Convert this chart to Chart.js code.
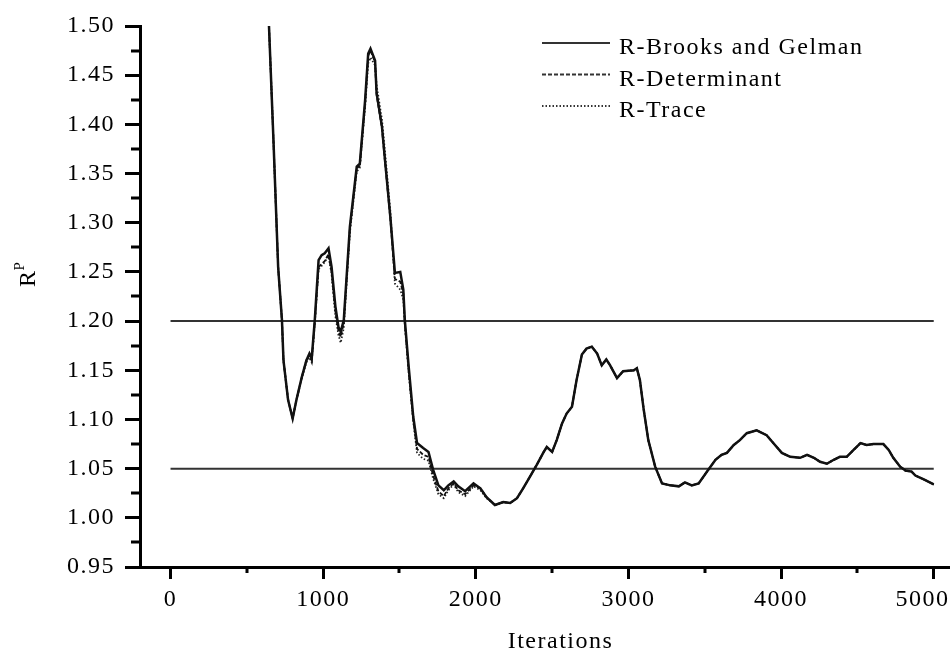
<!DOCTYPE html>
<html>
<head>
<meta charset="utf-8">
<script src="https://cdn.jsdelivr.net/npm/chart.js@4.4.0/dist/chart.umd.min.js"></script>
<style>
  html, body { margin: 0; padding: 0; background: #fff; }
  #wrap { width: 952px; height: 651px; }
</style>
</head>
<body>
<div id="wrap"><canvas id="rpChart"></canvas></div>
<script>
// values
const iterations = [
  645, 675, 705, 730, 740, 770, 800, 825, 860, 890,
  910, 925, 945, 970, 990, 1010, 1035, 1055, 1080, 1100,
  1115, 1135, 1175, 1220, 1240, 1275, 1295, 1310, 1340, 1350,
  1385, 1405, 1440, 1470, 1505, 1525, 1535, 1560, 1590, 1615,
  1655, 1690, 1720, 1755, 1790, 1820, 1855, 1885, 1930, 1985,
  2030, 2070, 2125, 2180, 2225, 2270, 2310, 2355, 2400, 2445,
  2465, 2500, 2530, 2565, 2595, 2630, 2660, 2695, 2725, 2760,
  2795, 2825, 2855, 2880, 2925, 2965, 3035, 3055, 3075, 3100,
  3130, 3175, 3220, 3275, 3330, 3370, 3415, 3460, 3515, 3570,
  3610, 3645, 3690, 3730, 3775, 3840, 3905, 3960, 4005, 4060,
  4125, 4170, 4215, 4255, 4300, 4345, 4385, 4430, 4475, 4520,
  4560, 4605, 4670, 4705, 4735, 4780, 4815, 4855, 4880, 4935, 5000
];
const rBrooksGelman = [
  1.500, 1.381, 1.255, 1.201, 1.160, 1.120, 1.101, 1.120, 1.143, 1.160,
  1.167, 1.162, 1.201, 1.262, 1.267, 1.269, 1.274, 1.255, 1.215, 1.194,
  1.189, 1.201, 1.296, 1.357, 1.360, 1.425, 1.472, 1.477, 1.465, 1.432,
  1.398, 1.364, 1.306, 1.249, 1.250, 1.232, 1.201, 1.154, 1.103, 1.076,
  1.071, 1.067, 1.049, 1.033, 1.028, 1.033, 1.037, 1.032, 1.027, 1.035,
  1.030, 1.021, 1.013, 1.016, 1.015, 1.020, 1.030, 1.042, 1.054, 1.067,
  1.072, 1.067, 1.079, 1.096, 1.106, 1.113, 1.140, 1.166, 1.172, 1.174,
  1.167, 1.155, 1.161, 1.155, 1.142, 1.149, 1.150, 1.152, 1.140, 1.110,
  1.079, 1.052, 1.035, 1.033, 1.032, 1.036, 1.033, 1.035, 1.047, 1.059,
  1.064, 1.066, 1.074, 1.079, 1.086, 1.089, 1.084, 1.074, 1.066, 1.062,
  1.061, 1.064, 1.061, 1.057, 1.055, 1.059, 1.062, 1.062, 1.069, 1.076,
  1.074, 1.075, 1.075, 1.069, 1.061, 1.052, 1.048, 1.047, 1.043, 1.039, 1.034
];
const rDeterminant = [
  1.500, 1.381, 1.255, 1.201, 1.160, 1.120, 1.101, 1.120, 1.143, 1.160,
  1.165, 1.160, 1.199, 1.255, 1.258, 1.261, 1.268, 1.250, 1.210, 1.190,
  1.184, 1.198, 1.294, 1.355, 1.358, 1.422, 1.470, 1.475, 1.463, 1.430,
  1.396, 1.362, 1.304, 1.243, 1.240, 1.228, 1.198, 1.150, 1.100, 1.070,
  1.064, 1.062, 1.043, 1.027, 1.022, 1.030, 1.035, 1.028, 1.024, 1.033,
  1.030, 1.021, 1.013, 1.016, 1.015, 1.020, 1.030, 1.042, 1.054, 1.067,
  1.072, 1.067, 1.079, 1.096, 1.106, 1.113, 1.140, 1.166, 1.172, 1.174,
  1.167, 1.155, 1.161, 1.155, 1.142, 1.149, 1.150, 1.152, 1.140, 1.110,
  1.079, 1.052, 1.035, 1.033, 1.032, 1.036, 1.033, 1.035, 1.047, 1.059,
  1.064, 1.066, 1.074, 1.079, 1.086, 1.089, 1.084, 1.074, 1.066, 1.062,
  1.061, 1.064, 1.061, 1.057, 1.055, 1.059, 1.062, 1.062, 1.069, 1.076,
  1.074, 1.075, 1.075, 1.069, 1.061, 1.052, 1.048, 1.047, 1.043, 1.039, 1.034
];
const rTrace = [
  1.500, 1.381, 1.255, 1.201, 1.160, 1.120, 1.101, 1.120, 1.142, 1.158,
  1.163, 1.158, 1.197, 1.253, 1.256, 1.260, 1.266, 1.248, 1.205, 1.186,
  1.178, 1.193, 1.290, 1.352, 1.356, 1.418, 1.462, 1.468, 1.460, 1.440,
  1.405, 1.372, 1.312, 1.238, 1.232, 1.222, 1.196, 1.148, 1.098, 1.066,
  1.060, 1.058, 1.040, 1.024, 1.020, 1.028, 1.034, 1.026, 1.022, 1.032,
  1.028, 1.020, 1.013, 1.016, 1.015, 1.020, 1.030, 1.042, 1.054, 1.067,
  1.072, 1.067, 1.079, 1.096, 1.106, 1.113, 1.140, 1.166, 1.172, 1.174,
  1.167, 1.155, 1.161, 1.155, 1.142, 1.149, 1.150, 1.152, 1.140, 1.110,
  1.079, 1.052, 1.035, 1.033, 1.032, 1.036, 1.033, 1.035, 1.047, 1.059,
  1.064, 1.066, 1.074, 1.079, 1.086, 1.089, 1.084, 1.074, 1.066, 1.062,
  1.061, 1.064, 1.061, 1.057, 1.055, 1.059, 1.062, 1.062, 1.069, 1.076,
  1.074, 1.075, 1.075, 1.069, 1.061, 1.052, 1.048, 1.047, 1.043, 1.039, 1.034
];
const seriesNames = ['R-Brooks and Gelman', 'R-Determinant', 'R-Trace'];

// reference lines
const thresholdX = [0, 5000];
const upperLimit = [1.20, 1.20];
const lowerLimit = [1.05, 1.05];

// tick values
const xTicks = [0, 1000, 2000, 3000, 4000, 5000];
const xMinorTicks = [500, 1500, 2500, 3500, 4500];
const yTicks = [0.95, 1.00, 1.05, 1.10, 1.15, 1.20, 1.25, 1.30, 1.35, 1.40, 1.45, 1.50];
const yMinorTicks = [0.975, 1.025, 1.075, 1.125, 1.175, 1.225, 1.275, 1.325, 1.375, 1.425, 1.475];

const SERIF = '"Liberation Serif", "Times New Roman", serif';

function toPoints(xs, ys) {
  return xs.map((v, i) => ({ x: v, y: ys[i] }));
}

// minor ticks, inside legend and axis titles
const axisDecor = {
  id: 'axisDecor',
  beforeDraw(chart) {
    chart.ctx.letterSpacing = '1.5px';
  },
  afterDraw(chart) {
    const { ctx, chartArea, scales } = chart;
    const x = scales.x, y = scales.y;
    ctx.save();

    // minor ticks
    ctx.strokeStyle = '#000';
    ctx.lineWidth = 3;
    ctx.beginPath();
    xMinorTicks.forEach(v => {
      const px = Math.round(x.getPixelForValue(v));
      ctx.moveTo(px, chartArea.bottom);
      ctx.lineTo(px, chartArea.bottom + 6);
    });
    yMinorTicks.forEach(v => {
      const py = Math.round(y.getPixelForValue(v));
      ctx.moveTo(chartArea.left, py);
      ctx.lineTo(chartArea.left - 9, py);
    });
    ctx.stroke();

    // legend (top right, inside plot)
    const lx = 542, lineLen = 68, rowTop = 43, rowStep = 31.5;
    ctx.font = '24px ' + SERIF;
    ctx.fillStyle = '#000';
    ctx.textAlign = 'left';
    ctx.textBaseline = 'alphabetic';
    chart.data.datasets.slice(0, 3).forEach((ds, i) => {
      const ly = rowTop + i * rowStep;
      ctx.strokeStyle = '#333';
      ctx.lineWidth = 2;
      ctx.setLineDash(ds.borderDash || []);
      ctx.beginPath();
      ctx.moveTo(lx, ly);
      ctx.lineTo(lx + lineLen, ly);
      ctx.stroke();
      ctx.setLineDash([]);
      ctx.fillText(ds.label, lx + lineLen + 9, ly + 11);
    });

    // x title
    ctx.textAlign = 'center';
    ctx.fillText('Iterations', (chartArea.left + chartArea.right) / 2 + 16, 648);

    // y title R^P, rotated
    ctx.translate(35, 287);
    ctx.rotate(-Math.PI / 2);
    ctx.textAlign = 'left';
    ctx.font = '24px ' + SERIF;
    ctx.fillText('R', 0, 0);
    const w = ctx.measureText('R').width;
    ctx.font = '15px ' + SERIF;
    ctx.fillText('P', w - 1, -11);
    ctx.restore();
  }
};

new Chart(document.getElementById('rpChart'), {
  type: 'line',
  data: {
    datasets: [{
      label: seriesNames[0],
      data: toPoints(iterations, rBrooksGelman),
      borderColor: '#111',
      borderWidth: 2.5,
      pointRadius: 0
    }, {
      label: seriesNames[1],
      data: toPoints(iterations, rDeterminant),
      borderColor: '#111',
      borderWidth: 1.8,
      borderDash: [4, 2],
      pointRadius: 0
    }, {
      label: seriesNames[2],
      data: toPoints(iterations, rTrace),
      borderColor: '#222',
      borderWidth: 1.8,
      borderDash: [1.5, 2],
      pointRadius: 0
    }, {
      label: 'upper',
      data: toPoints(thresholdX, upperLimit),
      borderColor: '#333',
      borderWidth: 2,
      pointRadius: 0
    }, {
      label: 'lower',
      data: toPoints(thresholdX, lowerLimit),
      borderColor: '#333',
      borderWidth: 2,
      pointRadius: 0
    }]
  },
  options: {
    responsive: true,
    maintainAspectRatio: false,
    animation: false,
    layout: { padding: { top: 26, right: 3, left: 0, bottom: 0 } },
    plugins: {
      legend: { display: false },
      tooltip: { enabled: false }
    },
    scales: {
      x: {
        type: 'linear',
        min: -200,
        max: 5100,
        afterBuildTicks: s => { s.ticks = xTicks.map(v => ({ value: v })); },
        afterFit: s => { s.height = 84; s.paddingLeft = 0; s.paddingRight = 0; },
        border: { display: true, color: '#000', width: 3 },
        grid: { drawOnChartArea: false, drawTicks: true, tickLength: 12, tickWidth: 3, tickColor: '#000' },
        ticks: {
          color: '#000',
          font: { family: SERIF, size: 24 },
          padding: 6,
          maxRotation: 0,
          autoSkip: false,
          // last label pulled inward so it stays in the picture
          callback: v => v === 5000 ? '5000\u00a0\u00a0\u00a0' : String(v)
        }
      },
      y: {
        type: 'linear',
        min: 0.95,
        max: 1.5,
        afterBuildTicks: s => { s.ticks = yTicks.map(v => ({ value: v })); },
        afterFit: s => { s.width = 140; },
        border: { display: true, color: '#000', width: 3 },
        grid: { drawOnChartArea: false, drawTicks: true, tickLength: 15, tickWidth: 3, tickColor: '#000' },
        ticks: {
          color: '#000',
          font: { family: SERIF, size: 24 },
          padding: 10,
          autoSkip: false,
          callback: v => v.toFixed(2)
        }
      }
    }
  },
  plugins: [axisDecor]
});
</script>
</body>
</html>
